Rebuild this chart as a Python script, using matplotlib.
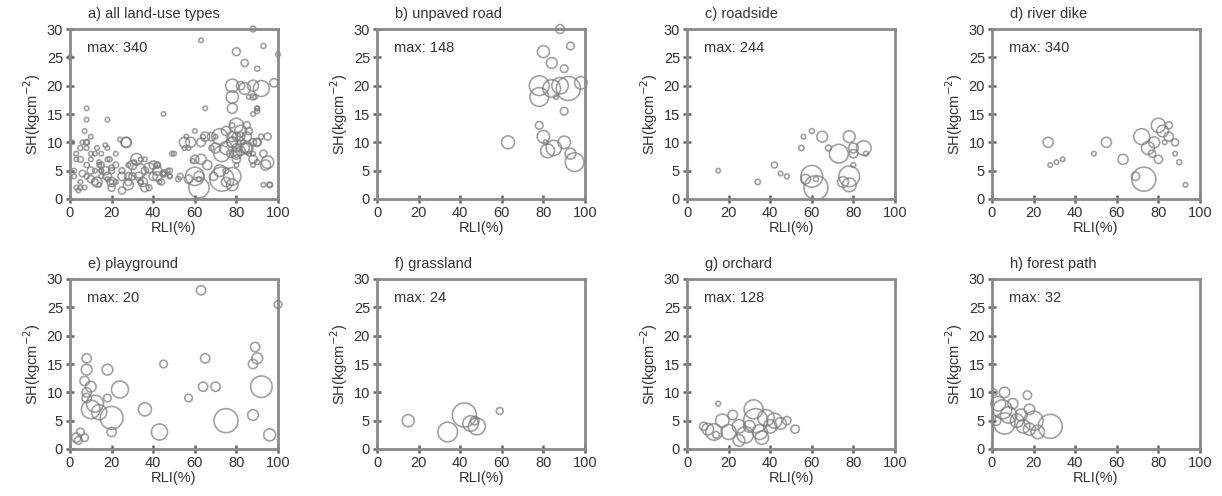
import numpy as np
import matplotlib
matplotlib.use('Agg')
import matplotlib.pyplot as plt

plt.rcParams['font.family'] = ['Liberation Sans', 'DejaVu Sans']

# (RLI %, SH kg cm^-2, count) per land-use type
unpaved_x = [63, 80, 88, 93, 84, 90, 78, 78, 84, 88, 92, 98, 90, 78, 80, 85, 82, 90, 93, 95, 86, 81]
unpaved_y = [10, 26, 30, 27, 24, 23, 20, 18, 19.5, 20, 19.5, 20.5, 15.5, 13, 11, 9, 8.5, 10, 8, 6.5, 18, 10]
unpaved_n = [43, 37, 20, 15, 30, 15, 100, 90, 80, 70, 148, 40, 15, 15, 40, 60, 50, 40, 30, 90, 5, 5]

roadside_x = [15, 34, 42, 45, 48, 55, 56, 60, 65, 68, 73, 78, 80, 85, 80, 86, 60, 62, 57, 78, 78, 75, 80, 62]
roadside_y = [5, 3, 6, 4.5, 4, 9, 11, 12, 11, 9, 8, 11, 9, 9, 8, 8, 4, 2, 3.5, 4, 2.5, 3, 6, 3.5]
roadside_n = [8, 12, 15, 8, 10, 12, 6, 10, 50, 15, 150, 60, 40, 90, 30, 10, 200, 244, 40, 180, 80, 50, 10, 10]

dike_x = [27, 28, 31, 34, 49, 55, 63, 73, 69, 72, 75, 80, 78, 82, 85, 85, 88, 90, 88, 80, 77, 83, 93]
dike_y = [10, 6, 6.5, 7, 8, 10, 7, 3.5, 4, 11, 9, 13, 10, 12, 13, 11, 10, 6.5, 8, 7, 8, 10, 2.5]
dike_n = [60, 12, 8, 8, 2, 60, 60, 340, 40, 150, 100, 120, 70, 80, 30, 50, 30, 15, 10, 40, 30, 5, 2]

play_x = [63, 100, 8, 8, 7, 18, 45, 65, 89, 88, 90, 92, 8, 8, 10, 12, 10, 14, 20, 75, 24, 20, 36, 43, 57,
          64, 70, 88, 96, 3, 5, 4, 7, 18]
play_y = [28, 25.5, 16, 14, 12, 14, 15, 16, 18, 15, 16, 11, 10, 9, 11, 8, 7, 6.5, 5.5, 5, 10.5, 3, 7, 3, 9,
          11, 11, 6, 2.5, 2, 3, 1.5, 2, 9]
play_n = [3, 2, 3, 4, 3, 4, 2, 3, 3, 3, 4, 16, 3, 3, 4, 10, 12, 8, 18, 20, 10, 3, 6, 9, 2,
          3, 3, 4, 5, 3, 2, 2, 2, 2]

grass_x = [15, 34, 42, 45, 48, 59, 47]
grass_y = [5, 3, 6, 4.5, 4, 6.7, 5]
grass_n = [6, 16, 24, 10, 12, 2, 3]

orch_x = [13, 10, 17, 20, 25, 28, 32, 33, 35, 38, 40, 42, 45, 48, 52, 15, 8, 22, 30, 36, 25, 14]
orch_y = [3, 3.5, 5, 3, 4, 2.5, 7, 5, 3, 5.5, 4, 5, 4.5, 5, 3.5, 8, 4, 6, 4, 2, 1.5, 2.5]
orch_n = [60, 30, 40, 50, 40, 60, 80, 128, 50, 60, 40, 50, 30, 15, 15, 5, 15, 20, 30, 40, 30, 10]

forest_x = [1, 6, 3, 5, 8, 2, 6, 12, 14, 17, 18, 20, 18, 22, 28, 15, 10]
forest_y = [10, 10, 8, 7, 6, 5, 4.5, 5, 6, 9.5, 7, 5, 3.5, 3, 4, 4, 8]
forest_n = [2, 6, 12, 20, 15, 5, 25, 10, 8, 4, 6, 20, 8, 10, 32, 10, 6]

# further samples only seen in the pooled panel a)
other_x = [3, 5, 8, 10, 12, 15, 18, 20, 22, 25, 28, 30, 33, 36, 38, 40, 42, 44, 5, 2, 0, 27, 13, 19,
           58, 60, 62, 66, 68, 70, 72, 75, 78, 80, 82, 84, 86, 88, 90, 94, 88, 90, 82, 78, 53, 50, 95, 96]
other_y = [7, 9, 10, 5, 3, 6, 4, 2, 8, 5, 3, 6, 4, 5, 2, 6, 4, 3, 2, 4, 25, 10, 9, 7,
           10, 7, 4, 6, 11, 9, 5, 12, 10, 8, 11, 9, 12, 7, 10, 6, 18, 16, 20, 16, 4, 8, 11, 2.5]
other_n = [10, 15, 20, 30, 25, 20, 40, 30, 10, 20, 30, 50, 40, 30, 20, 40, 50, 20, 10, 8, 3, 60, 10, 15,
           60, 40, 60, 50, 40, 60, 80, 50, 60, 70, 40, 50, 30, 40, 30, 60, 20, 10, 40, 60, 20, 5, 30, 20]

groups = [
    ('b) unpaved road', unpaved_x, unpaved_y, unpaved_n),
    ('c) roadside', roadside_x, roadside_y, roadside_n),
    ('d) river dike', dike_x, dike_y, dike_n),
    ('e) playground', play_x, play_y, play_n),
    ('f) grassland', grass_x, grass_y, grass_n),
    ('g) orchard', orch_x, orch_y, orch_n),
    ('h) forest path', forest_x, forest_y, forest_n),
]
all_x = sum([g[1] for g in groups], []) + other_x
all_y = sum([g[2] for g in groups], []) + other_y
all_n = sum([g[3] for g in groups], []) + other_n
panels = [('a) all land-use types', all_x, all_y, all_n)] + groups

W, H = 1222, 496
fig = plt.figure(figsize=(W / 100, H / 100), dpi=100)
lefts = [70, 377, 687, 992]
bottoms = [199, 449]
aw, ah = 208, 170
grey = '#8a8a8a'
txt = '#333333'

for i, (title, x, y, n) in enumerate(panels):
    r, c = divmod(i, 4)
    ax = fig.add_axes([lefts[c] / W, (H - bottoms[r]) / H, aw / W, ah / H])
    n = np.array(n, float)
    d_px = np.maximum(24 * np.sqrt(n / n.max()), 4.5)
    ax.scatter(x, y, s=(d_px * 0.72) ** 2, facecolors='none', edgecolors='#7a7a7a',
               linewidths=1.2, alpha=0.7, clip_on=False)
    ax.set_xlim(0, 100); ax.set_ylim(0, 30)
    ax.set_xticks(range(0, 101, 20)); ax.set_yticks(range(0, 31, 5))
    for s in ax.spines.values():
        s.set_color(grey); s.set_linewidth(2)
    ax.tick_params(direction='inout', length=6, width=1.8, color='#666666',
                   labelsize=10.5, labelcolor=txt, pad=2)
    ax.set_xlabel('RLI(%)', fontsize=10.5, color=txt, labelpad=1)
    ax.set_ylabel('SH(kgcm$^{-2}$)', fontsize=10.5, color=txt, labelpad=3)
    ax.text(0.085, 1.045, title, transform=ax.transAxes, fontsize=10.5, color=txt,
            ha='left', va='bottom')
    ax.text(0.08, 0.89, f'max: {int(n.max())}', transform=ax.transAxes, fontsize=10.5,
            color=txt, ha='left', va='center')

fig.savefig('out.png', dpi=100)
